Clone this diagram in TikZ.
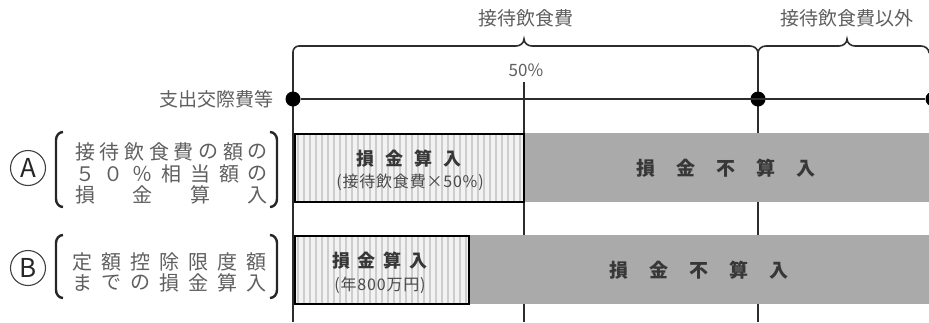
\documentclass[tikz,border=0pt]{standalone}
\usepackage{fontspec}
\setmainfont{Noto Sans CJK JP}
\definecolor{barg}{RGB}{170,170,170}
\definecolor{stripebg}{RGB}{242,242,242}
\definecolor{stripefg}{RGB}{205,205,205}
\definecolor{ink}{RGB}{55,55,55}
\definecolor{lineink}{RGB}{45,45,45}
\tikzset{
  axisline/.style={line width=1.6pt, draw=lineink},
  bigdot/.style={circle, fill=black, inner sep=0pt, minimum size=15pt},
  toplbl/.style={font=\fontsize{19}{19}\selectfont, text=ink!80, inner sep=0pt},
  lefttxt/.style={font=\fontsize{20}{20}\selectfont, text=ink!80, inner sep=0pt},
  bracketline/.style={line width=2.4pt, draw=black!85},
  circletter/.style={circle, draw=black!75, line width=1.1pt, minimum size=35pt, inner sep=0pt,
    font=\fontsize{26}{26}\selectfont, text=black!85},
  graybar/.style={fill=barg, draw=none, inner sep=0pt, anchor=north west,
    font=\fontsize{19}{19}\bfseries\selectfont, text=ink},
  stripebox/.style={fill=stripebg, draw=black, line width=2.4pt, inner sep=0pt, anchor=north west,
    path picture={\foreach \k in {0,6,...,240}
      \draw[stripefg, line width=1.8pt]
        ([xshift=\k pt+3pt]path picture bounding box.south west) --
        ([xshift=\k pt+3pt]path picture bounding box.north west);}},
  boxmain/.style={font=\fontsize{18}{18}\bfseries\selectfont, text=ink, inner sep=0pt},
  boxsub/.style={font=\fontsize{16}{16}\selectfont\addfontfeature{LetterSpace=5}, text=ink!90, inner sep=0pt},
}
\begin{document}
\begin{tikzpicture}[x=1pt,y=-1pt]
\useasboundingbox (0,0) rectangle (929,322);

% coordinates for vertical lines
\coordinate (vl-top) at (293,52);
\coordinate (vl-bot) at (293,322);
\coordinate (vm-top) at (758,53);
\coordinate (vm-bot) at (758,322);
\coordinate (vh-top) at (524,82);
\coordinate (vh-bot) at (524,322);

% vertical lines
\draw[axisline] (vl-top) -- (vl-bot);
\draw[axisline] (vm-top) -- (vm-bot);
\draw[axisline] (vh-top) -- (vh-bot);

% braces
\draw[axisline] (293,60) -- (vl-top) to[out=90,in=180] (299,46) -- (516,46)
  to[out=0,in=-90] (524,39) to[out=-90,in=180] (532,46) -- (750,46)
  to[out=0,in=90] (vm-top) to[out=90,in=180] (766,46) -- (839,46)
  to[out=0,in=-90] (847,39) to[out=-90,in=180] (855,46) -- (921,46)
  to[out=0,in=90] (929,53);

\node[toplbl] (t1) at (526,18) {接待飲食費};
\node[toplbl] (t2) at (847,18) {接待飲食費以外};
\node[font=\fontsize{17}{17}\selectfont, text=ink!80, inner sep=0pt] (p50) at (526,70) {50\%};

% horizontal line with dots
\node[bigdot] (d1) at (293,99) {};
\node[bigdot] (d2) at (758,99) {};
\node[bigdot] (d3) at (933,99) {};
\draw[axisline] (d1) -- (d3);
\node[toplbl, anchor=east] (sk) at (274,99) {支出交際費等};

% row A
\node[graybar, minimum width=410pt, minimum height=69pt] (ga) at (521,133) {損\hspace{21pt}金\hspace{21pt}不\hspace{21pt}算\hspace{21pt}入};
\node[stripebox, minimum width=229pt, minimum height=68pt] (sa) at (294,133) {};
\node[boxmain] (sa1) at (409,159) {損\hspace{11pt}金\hspace{11pt}算\hspace{11pt}入};
\node[boxsub] (sa2) at (410,182) {(接待飲食費×50\%)};

% row B
\node[graybar, minimum width=464pt, minimum height=69pt] (gb) at (467,235) {損\hspace{21pt}金\hspace{21pt}不\hspace{21pt}算\hspace{21pt}入};
\node[stripebox, minimum width=174pt, minimum height=68pt] (sb) at (294,235) {};
\node[boxmain] (sb1) at (380,261) {損\hspace{8pt}金\hspace{8pt}算\hspace{8pt}入};
\node[boxsub] (sb2) at (380,285) {(年800万円)};

% left labels A
\node[circletter] (ca) at (28,168) {A};
\draw[bracketline] (63,132) to[out=180,in=90] (56,140) -- (56,199) to[out=-90,in=180] (63,207);
\draw[bracketline] (270,132) to[out=0,in=90] (277,140) -- (277,199) to[out=-90,in=0] (270,207);
\foreach \c [count=\i from 0] in {接,待,飲,食,費,の,額,の}
  \node[lefttxt] (a1-\i) at (85+\i*24.7,152) {\c};
\foreach \c [count=\i from 0] in {５,０,％,相,当,額,の}
  \node[lefttxt] (a2-\i) at (85+\i*28.8,174) {\c};
\foreach \c [count=\i from 0] in {損,金,算,入}
  \node[lefttxt] (a3-\i) at (85+\i*57.6,195) {\c};

% left labels B
\node[circletter] (cb) at (28,268) {B};
\draw[bracketline] (63,235) to[out=180,in=90] (56,243) -- (56,290) to[out=-90,in=180] (63,298);
\draw[bracketline] (270,235) to[out=0,in=90] (277,243) -- (277,290) to[out=-90,in=0] (270,298);
\foreach \c [count=\i from 0] in {定,額,控,除,限,度,額}
  \node[lefttxt] (b1-\i) at (82+\i*29,262) {\c};
\foreach \c [count=\i from 0] in {ま,で,の,損,金,算,入}
  \node[lefttxt] (b2-\i) at (82+\i*29,283) {\c};
\end{tikzpicture}
\end{document}
